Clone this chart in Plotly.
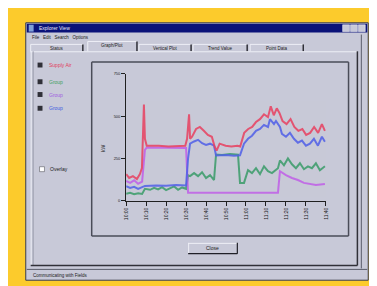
import plotly.graph_objects as go

W, H = 377, 286

# ---------------- data ----------------
x_labels = ["10:00", "10:10", "10:20", "10:30", "10:40", "10:50",
            "11:00", "11:10", "11:20", "11:30", "11:40"]
x_ticks = [0, 10, 20, 30, 40, 50, 60, 70, 80, 90, 100]
y_ticks = [0, 250, 500, 750]
y_labels = ["0", "250", "500", "750"]

red_x = [0, 1.5, 3.4, 5.4, 6.9, 7.9, 8.9, 9.4, 10.3, 16.3, 21.2, 26.1, 29.6, 30.5,
         31.5, 32.0, 33.0, 35.0, 36.9, 38.9, 40.9, 42.9, 44.3, 45.3, 46.8, 49.8,
         52.7, 55.7, 57.1, 59.1, 61.1, 63.1, 65.0, 67.0, 69.0, 71.0, 72.4, 73.9,
         75.4, 76.8, 78.3, 80.3, 82.3, 84.2, 86.2, 88.2, 90.1, 92.1, 94.1, 96.1,
         98.0, 99.5]
red_y = [157, 134, 145, 128, 157, 192, 569, 366, 325, 325, 320, 325, 325, 366,
         511, 366, 378, 424, 436, 413, 389, 378, 320, 296, 337, 325,
         320, 325, 320, 401, 424, 436, 465, 482, 511, 494, 558, 505,
         546, 517, 471, 453, 482, 436, 413, 424, 389, 401, 436, 401,
         453, 413]

blue_x = [0, 2, 4, 6, 8, 9.4, 15, 20, 25, 30, 31, 32, 34, 36, 38, 40, 42, 44,
          45, 50, 54, 57, 59, 61, 63, 65, 67, 69, 71, 72, 74, 75, 77, 78, 80,
          82, 84, 86, 88, 90, 92, 94, 96, 98, 99.5]
blue_y = [85, 75, 82, 70, 80, 87, 90, 88, 92, 90, 250, 337, 350, 360, 340, 330,
          337, 325, 267, 270, 265, 268, 337, 366, 384, 413, 424, 448, 436, 482,
          453, 471, 436, 395, 378, 401, 366, 343, 355, 325, 337, 366, 325, 378,
          349]

mag_x = [0, 2, 4, 6, 8, 9.4, 10.3, 15, 20, 25, 30, 31, 40, 50, 60, 70, 76, 77,
         80, 83, 86, 89, 92, 95, 99.5]
mag_y = [116, 105, 120, 100, 112, 300, 314, 314, 312, 314, 312, 46, 46, 46, 47,
         46, 47, 174, 151, 134, 122, 105, 99, 93, 99]

green_x = [0, 2, 4, 6, 8, 9.4, 12, 14, 16, 18, 20, 22, 24, 26, 28, 30, 31, 32,
           34, 36, 38, 40, 42, 44, 45, 48, 52, 56, 57, 59, 61, 63, 65, 67, 69,
           71, 73, 76, 77, 79, 81, 83, 85, 87, 89, 91, 93, 95, 97, 99.5]
green_y = [41, 46, 38, 44, 40, 70, 64, 76, 66, 80, 62, 74, 84, 64, 78, 70, 150,
           145, 163, 145, 168, 134, 151, 122, 273, 270, 276, 272, 105, 105, 180,
           163, 192, 157, 203, 174, 163, 192, 238, 209, 250, 215, 192, 221, 186,
           203, 192, 221, 180, 203]

# ---------------- helpers ----------------
def px(x):
    return x / W

def py(y):
    return 1 - y / H

shapes = []
annotations = []

def rect(x0, y0, x1, y1, fill=None, line=None, lw=1, layer="below"):
    shapes.append(dict(type="rect", xref="paper", yref="paper",
                       x0=px(x0), x1=px(x1), y0=py(y1), y1=py(y0),
                       fillcolor=fill if fill else "rgba(0,0,0,0)",
                       line=dict(color=line if line else "rgba(0,0,0,0)", width=lw if line else 0),
                       layer=layer))

def hline(x0, x1, y, color, lw=1):
    shapes.append(dict(type="line", xref="paper", yref="paper",
                       x0=px(x0), x1=px(x1), y0=py(y), y1=py(y),
                       line=dict(color=color, width=lw), layer="below"))

def vline(x, y0, y1, color, lw=1):
    shapes.append(dict(type="line", xref="paper", yref="paper",
                       x0=px(x), x1=px(x), y0=py(y0), y1=py(y1),
                       line=dict(color=color, width=lw), layer="below"))

def text(x, y, s, size=5, color="#202020", anchor="left", angle=0):
    annotations.append(dict(xref="paper", yref="paper", x=px(x), y=py(y),
                            text=s, showarrow=False, xanchor=anchor, yanchor="middle",
                            textangle=angle,
                            font=dict(size=size, color=color, family="Liberation Sans")))

WIN = "#c8c9d8"
DARK = "#5a5c6a"
LIGHT = "#eeeff6"

# window
rect(15, 12, 363, 274, fill=WIN, line="#3a3c48", lw=1)
# title bar
rect(16, 13, 362, 22, fill="#0a1278")
text(26, 17.5, "Explorer View", size=5, color="#e8e8f8")
rect(18, 14, 23, 21, fill="#7fa0d8")
for bx in (337, 345, 353):
    rect(bx, 14, bx + 7, 21, fill="#c8c9d8", line="#ffffff", lw=0.5)
# menu
text(19, 26.5, "File   Edit   Search   Options", size=4.5, color="#202020")

# tabs
tabs = [(20, 73, "Status"), (78, 128, "Graph/Plot"), (130, 183, "Vertical Plot"),
        (185, 240, "Trend Value"), (243, 297, "Point Data")]
for i, (a, b, s) in enumerate(tabs):
    top = 31 if i == 1 else 34
    rect(a, top, b, 42, fill=WIN)
    hline(a, b, top, LIGHT)
    vline(a, top, 42, LIGHT)
    vline(b, top, 42, "#303038", lw=1.5)
    text((a + b) / 2, top + 4, s, size=4.5, color="#202020", anchor="center")

# tab panel
rect(20, 41, 352, 259, fill=WIN)
hline(20, 352, 41.5, LIGHT)
vline(20.5, 41, 259, LIGHT)
vline(22.5, 41, 259, "#9a9cac")
vline(352, 41, 259, "#303038", lw=1.5)
hline(20, 352, 259, "#303038", lw=1.5)
vline(356, 24, 262, DARK, lw=1)
# status bar
hline(16, 362, 263, DARK)
text(20, 269, "Communicating with Fields", size=4.5, color="#202020")

# left check boxes
checks = [(55, "Supply Air", "#e0405a"), (72, "Group", "#40a060"),
          (85, "Group", "#a060e0"), (99, "Group", "#4060e0")]
for yy, s, c in checks:
    rect(27, yy - 2.5, 32, yy + 2.5, fill="#303038")
    text(37, yy, s, size=5, color=c)
rect(29, 158.5, 34, 163.5, fill="#ffffff", line="#404048", lw=0.5)
text(38, 161, "Overlay", size=5, color="#202020")

# plot group box
rect(82, 52, 343, 229, fill=WIN)
hline(82, 343, 52, "#4a4c58", lw=1.5)
vline(82, 52, 229, "#4a4c58", lw=1.5)
vline(343, 52, 229, "#4a4c58", lw=1.5)
hline(82, 343, 229, "#4a4c58", lw=1.5)

# close button
rect(180, 236, 230, 247, fill=WIN)
hline(180, 230, 236.5, LIGHT)
vline(180.5, 236, 247, LIGHT)
hline(180, 230, 247, "#202028", lw=1.2)
vline(230, 236, 247, "#202028", lw=1.2)
text(205, 241.5, "Close", size=5, color="#202020", anchor="center")

# y axis title
text(93, 140, "kW", size=5, color="#202020", anchor="center", angle=-90)

fig = go.Figure()
for xs, ys, c in [(green_x, green_y, "#3a9e6a"), (mag_x, mag_y, "#c060e8"),
                  (blue_x, blue_y, "#5060e8"), (red_x, red_y, "#e84060")]:
    fig.add_trace(go.Scatter(x=xs, y=ys, mode="lines",
                             line=dict(color=c, width=2, shape="linear"),
                             opacity=0.85, showlegend=False, hoverinfo="skip"))

fig.update_layout(
    width=W, height=H, autosize=False,
    margin=dict(l=0, r=0, t=0, b=0),
    paper_bgcolor="#fccb2c",
    plot_bgcolor="rgba(0,0,0,0)",
    shapes=shapes, annotations=annotations,
    xaxis=dict(domain=[117 / W, 320 / W], range=[0, 100], showgrid=False,
               zeroline=False, showline=True, linecolor="#202020", linewidth=1,
               ticks="outside", ticklen=4, tickcolor="#202020",
               tickvals=x_ticks, ticktext=x_labels, tickangle=-90,
               tickfont=dict(size=5, color="#202020", family="Liberation Sans")),
    yaxis=dict(domain=[(H - 193) / H, (H - 64) / H], range=[0, 750], showgrid=False,
               zeroline=False, showline=True, linecolor="#202020", linewidth=1,
               ticks="outside", ticklen=4, tickcolor="#202020",
               tickvals=y_ticks, ticktext=y_labels,
               tickfont=dict(size=4, color="#202020", family="Liberation Sans")),
)

fig.write_html("out.html")
